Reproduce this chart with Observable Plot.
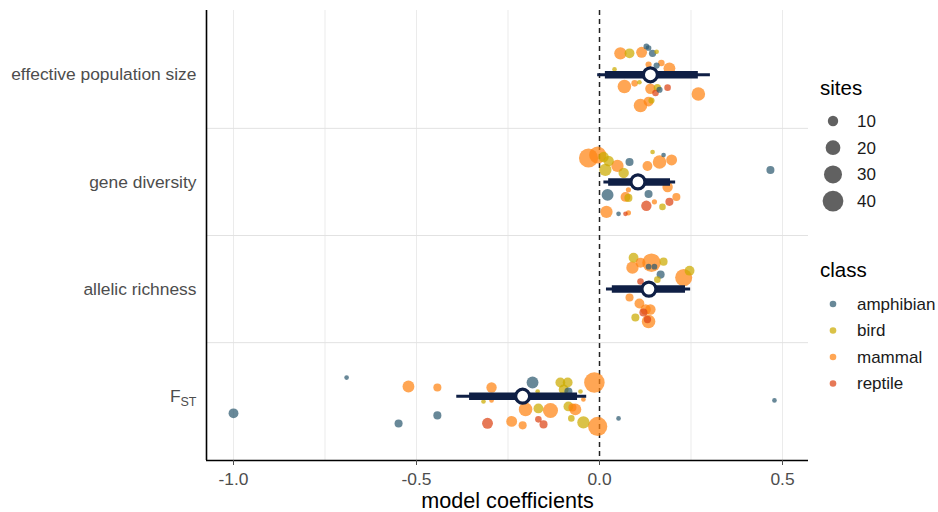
<!DOCTYPE html>
<html><head><meta charset="utf-8">
<script src="https://cdn.jsdelivr.net/npm/d3@7"></script>
<script src="https://cdn.jsdelivr.net/npm/@observablehq/plot@0.6"></script>
<style>
body{margin:0;background:#fff;font-family:"Liberation Sans",Arial,sans-serif;}
#wrap{position:relative;width:938px;height:512px;overflow:hidden;}
#chart{position:absolute;left:0;top:0;}
#legend{position:absolute;left:810px;top:0;width:128px;height:512px;}
</style></head><body>
<div id="wrap"><div id="chart"></div><div id="legend"></div></div>
<script>
// categories (bottom to top positions 1..4)
const variables = ["effective population size", "gene diversity", "allelic richness", "FST"];
const varPos = [4, 3, 2, 1];
const classes = ["amphibian", "bird", "mammal", "reptile"];
const classColors = ["#2e5a70", "#ccaa00", "#ff8412", "#dd4415"];
const sizeBreaks = [10, 20, 30, 40];
const xTicks = [-1.0, -0.5, 0.0, 0.5];

// study-level coefficients: [coefficient, vertical jitter, sites, class]
const epsPoints = [
  [0.057, 0.20, 14, "mammal"], [0.082, 0.20, 9, "bird"], [0.115, 0.21, 11, "mammal"],
  [0.128, 0.265, 3, "amphibian"], [0.134, 0.25, 3, "amphibian"], [0.145, 0.20, 5, "amphibian"],
  [0.156, 0.215, 2, "bird"], [0.041, 0.05, 2, "bird"], [0.134, 0.095, 3.5, "mammal"],
  [0.156, 0.086, 3.5, "amphibian"], [0.169, 0.11, 4, "mammal"], [0.191, 0.06, 13, "mammal"],
  [0.068, -0.11, 17, "mammal"], [0.096, -0.08, 4, "mammal"], [0.109, -0.07, 2, "bird"],
  [0.139, -0.13, 10, "mammal"], [0.158, -0.12, 5, "bird"], [0.164, -0.14, 3.5, "amphibian"],
  [0.186, -0.12, 4, "reptile"], [0.153, -0.17, 4, "reptile"], [0.27, -0.18, 17, "mammal"],
  [0.112, -0.286, 17, "mammal"], [0.134, -0.25, 9, "mammal"], [0.142, -0.24, 3.5, "bird"]
];
const gdPoints = [
  [-0.030, 0.223, 34, "mammal"], [-0.005, 0.251, 27, "mammal"], [0.011, 0.233, 10, "bird"],
  [0.025, 0.195, 10, "bird"], [0.049, 0.149, 14, "mammal"], [0.016, 0.112, 14, "bird"],
  [0.066, 0.084, 10, "bird"], [0.082, 0.186, 6, "amphibian"], [0.145, 0.279, 2, "bird"],
  [0.175, 0.251, 2, "amphibian"], [0.164, 0.186, 17, "mammal"], [0.197, 0.205, 11, "mammal"],
  [0.131, 0.149, 9, "mammal"], [0.186, -0.047, 10, "mammal"], [0.022, -0.121, 13, "amphibian"],
  [0.071, -0.14, 9, "mammal"], [0.079, -0.149, 6, "bird"], [0.134, -0.112, 6, "amphibian"],
  [0.079, -0.074, 2.5, "mammal"], [0.128, -0.223, 10, "reptile"], [0.150, -0.186, 2.5, "mammal"],
  [0.191, -0.186, 6, "reptile"], [0.210, -0.140, 6, "mammal"], [0.172, -0.233, 4, "bird"],
  [0.019, -0.279, 14, "mammal"], [0.052, -0.298, 2, "amphibian"], [0.071, -0.298, 2, "reptile"],
  [0.079, -0.288, 2.5, "mammal"], [0.467, 0.112, 6, "amphibian"]
];
const arPoints = [
  [0.093, 0.293, 9, "bird"], [0.090, 0.20, 14, "mammal"], [0.142, 0.246, 32, "mammal"],
  [0.134, 0.209, 3, "amphibian"], [0.150, 0.209, 3, "amphibian"], [0.175, 0.256, 6, "bird"],
  [0.112, 0.246, 9, "mammal"], [0.167, 0.135, 6, "amphibian"], [0.230, 0.107, 27, "mammal"],
  [0.246, 0.172, 9, "bird"], [0.112, 0.07, 4, "reptile"], [0.158, 0.088, 4, "bird"],
  [0.082, -0.079, 6, "mammal"], [0.109, -0.135, 9, "mammal"], [0.126, -0.191, 10, "mammal"],
  [0.120, -0.219, 6, "reptile"], [0.139, -0.191, 10, "mammal"], [0.098, -0.265, 6, "bird"],
  [0.134, -0.302, 17, "mammal"], [0.131, -0.284, 5, "reptile"]
];
const fstPoints = [
  [-1.0, -0.16, 9, "amphibian"], [-0.691, 0.174, 2, "amphibian"], [-0.522, 0.091, 13, "mammal"],
  [-0.549, -0.254, 6, "amphibian"], [-0.443, 0.081, 6, "mammal"], [-0.443, -0.179, 6, "amphibian"],
  [-0.295, 0.081, 10, "mammal"], [-0.183, 0.128, 13, "amphibian"], [-0.107, 0.128, 9, "bird"],
  [-0.087, 0.128, 9, "bird"], [-0.014, 0.128, 39, "mammal"], [-0.098, 0.063, 9, "bird"],
  [-0.085, 0.044, 6, "amphibian"], [-0.169, 0.044, 2, "bird"], [-0.317, -0.049, 2, "bird"],
  [-0.295, -0.039, 2, "mammal"], [-0.052, 0.044, 2, "bird"], [-0.044, -0.03, 2, "mammal"],
  [-0.202, -0.123, 17, "mammal"], [-0.167, -0.114, 9, "bird"], [-0.134, -0.133, 21, "mammal"],
  [-0.085, -0.095, 9, "bird"], [-0.074, -0.105, 6, "mammal"], [-0.066, -0.123, 13, "mammal"],
  [-0.306, -0.253, 11, "reptile"], [-0.240, -0.235, 11, "mammal"], [-0.210, -0.272, 6, "mammal"],
  [-0.167, -0.216, 4, "reptile"], [-0.153, -0.263, 6, "reptile"], [-0.077, -0.207, 4, "bird"],
  [-0.044, -0.244, 14, "bird"], [-0.005, -0.282, 34, "mammal"], [0.052, -0.207, 2, "amphibian"],
  [0.478, -0.039, 2, "amphibian"]
];

// pooled model estimates
const means = [0.139, 0.105, 0.135, -0.21];
const lo95 = [-0.005, 0.012, 0.019, -0.39];
const hi95 = [0.303, 0.208, 0.249, -0.035];
const lo50 = [0.016, 0.025, 0.035, -0.355];
const hi50 = [0.27, 0.194, 0.235, -0.06];

const panels = [epsPoints, gdPoints, arPoints, fstPoints];
const points = panels.flatMap((arr, i) => arr.map(([x, j, s, c]) => ({x, y: varPos[i] + j, sites: s, cls: c})));
const summary = variables.map((v, i) => ({v, y: varPos[i], m: means[i], lo95: lo95[i], hi95: hi95[i], lo50: lo50[i], hi50: hi50[i]}));
const labelByPos = Object.fromEntries(variables.map((v, i) => [varPos[i], v]));

const xMin = -1.0738, xMax = 0.571;
const navy = "#0f1f45";
const rScale = {type: "sqrt", domain: [0, 40], range: [0, 10.4]};
const font = "'Liberation Sans', Arial, sans-serif";

const chart = Plot.plot({
  width: 810, height: 512,
  marginLeft: 206, marginRight: 2, marginTop: 10, marginBottom: 52,
  style: {fontFamily: font, background: "white"},
  x: {domain: [xMin, xMax]},
  y: {domain: [0.4, 4.6]},
  r: rScale,
  color: {domain: classes, range: classColors},
  marks: [
    Plot.ruleX([-1, -0.75, -0.5, -0.25, 0.25, 0.5], {stroke: "#ebebeb", strokeWidth: 1}),
    Plot.ruleY([1.5, 2.5, 3.5], {stroke: "#e2e2e2", strokeWidth: 1}),
    Plot.ruleX([0], {stroke: "#222", strokeWidth: 1.5, strokeDasharray: "5,4"}),
    Plot.dot(points, {x: "x", y: "y", r: "sites", fill: "cls", fillOpacity: 0.72}),
    Plot.ruleY(summary, {y: "y", x1: "lo95", x2: "hi95", stroke: navy, strokeWidth: 3}),
    Plot.ruleY(summary, {y: "y", x1: "lo50", x2: "hi50", stroke: navy, strokeWidth: 7.5}),
    Plot.dot(summary, {x: "m", y: "y", r: 7, fill: "white", stroke: navy, strokeWidth: 3.2}),
    Plot.ruleX([xMin], {stroke: "black", strokeWidth: 1.6}),
    Plot.ruleY([0.4], {stroke: "black", strokeWidth: 1.6}),
    Plot.axisX({ticks: xTicks, tickFormat: d => d.toFixed(1), tickSize: 5, tickPadding: 7, fontSize: 17.4, color: "#4d4d4d", label: null}),
    Plot.axisY({ticks: varPos, tickFormat: d => labelByPos[d], tickSize: 0, tickPadding: 10, fontSize: 17.4, color: "#4d4d4d", label: null}),
    Plot.text(["model coefficients"], {frameAnchor: "bottom", dy: 41, fontSize: 21.6, fill: "black", lineAnchor: "middle"})
  ]
});
document.getElementById("chart").appendChild(chart);

// subscript for F_ST
d3.select(chart).selectAll("text").filter(function() { return this.textContent === "FST"; })
  .each(function() {
    const t = d3.select(this);
    t.text(null);
    t.append("tspan").text("F");
    t.append("tspan").attr("font-size", 12.5).attr("dy", "0.35em").text("ST");
  });

// legend
const rs = Plot.scale({r: rScale});
const lg = d3.select("#legend").append("svg").attr("width", 128).attr("height", 512)
  .style("font-family", font);
lg.append("text").attr("x", 10).attr("y", 88).attr("dy", "0.35em").attr("font-size", 20.5).text("sites");
sizeBreaks.forEach((s, i) => {
  const cy = 121 + i * 26.7;
  lg.append("circle").attr("cx", 23).attr("cy", cy).attr("r", rs.apply(s)).attr("fill", "black").attr("fill-opacity", 0.62);
  lg.append("text").attr("x", 47).attr("y", cy).attr("dy", "0.35em").attr("font-size", 17).attr("fill", "#1a1a1a").text(s);
});
lg.append("text").attr("x", 10).attr("y", 270).attr("dy", "0.35em").attr("font-size", 20.5).text("class");
classes.forEach((c, i) => {
  const cy = 304 + i * 26.5;
  lg.append("circle").attr("cx", 23).attr("cy", cy).attr("r", 3.3).attr("fill", classColors[i]).attr("fill-opacity", 0.72);
  lg.append("text").attr("x", 47).attr("y", cy).attr("dy", "0.35em").attr("font-size", 17).attr("fill", "#1a1a1a").text(c);
});
</script>
</body></html>
